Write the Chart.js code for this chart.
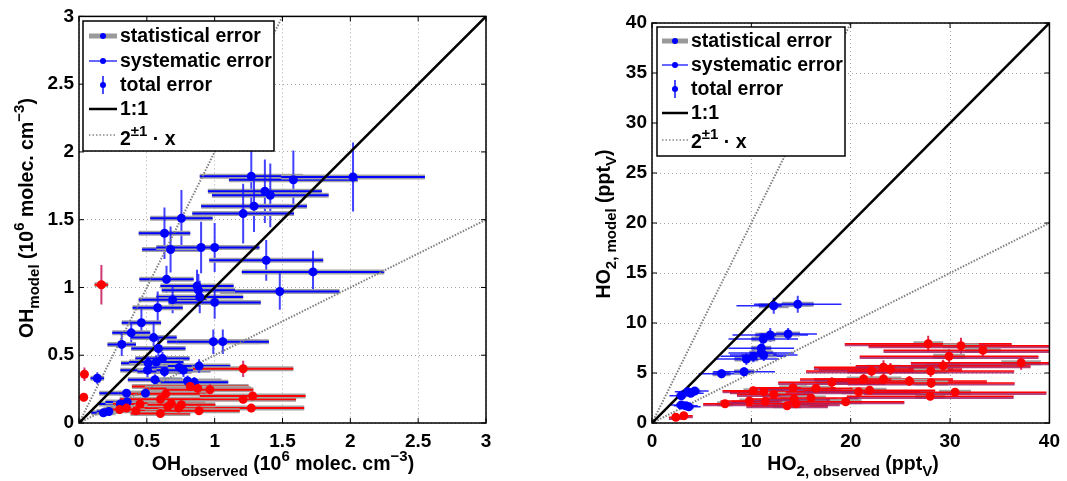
<!DOCTYPE html>
<html>
<head>
<meta charset="utf-8">
<script src="https://cdn.jsdelivr.net/npm/chart.js@4"></script>
<style>
    body { margin: 0; background: #fff; width: 1067px; height: 481px; overflow: hidden; position: relative; }
    #ohChart { position: absolute; left: 0; top: 0; }
    #ho2Chart { position: absolute; left: 540px; top: 0; }
</style>
</head>
<body>
<canvas id="ohChart" width="500" height="481"></canvas>
<canvas id="ho2Chart" width="527" height="481"></canvas>
<script>
//OH panel, blue = first campaign, red = second campaign
const ohBlueObs = [1.27, 1.58, 2.02, 1.37, 1.41, 1.29, 1.21, 0.755, 0.63, 0.675, 0.90, 1.00, 1.38, 1.725, 1.48, 0.645, 0.87, 0.88, 0.89, 0.69, 1.00, 0.58, 0.46, 0.385, 0.55, 0.315, 0.585, 0.99, 1.06, 0.615, 0.51, 0.57, 0.505, 0.63, 0.74, 0.77, 0.885, 0.56, 0.80, 0.85, 0.135, 0.35, 0.49, 0.305, 0.355, 0.18, 0.22];
const ohBlueModel = [1.82, 1.795, 1.815, 1.71, 1.68, 1.60, 1.545, 1.51, 1.40, 1.28, 1.295, 1.295, 1.20, 1.115, 0.97, 1.06, 1.01, 0.98, 0.93, 0.91, 0.89, 0.85, 0.74, 0.665, 0.63, 0.58, 0.55, 0.60, 0.60, 0.475, 0.44, 0.45, 0.39, 0.38, 0.41, 0.39, 0.42, 0.32, 0.31, 0.30, 0.33, 0.22, 0.22, 0.14, 0.155, 0.075, 0.085];
const ohBlueXErr = [0.38, 0.475, 0.53, 0.42, 0.43, 0.39, 0.375, 0.23, 0.19, 0.21, 0.33, 0.33, 0.42, 0.525, 0.44, 0.2, 0.27, 0.27, 0.32, 0.25, 0.34, 0.185, 0.145, 0.14, 0.17, 0.105, 0.2, 0.34, 0.34, 0.2, 0.2, 0.2, 0.2, 0.2, 0.25, 0.2, 0.23, 0.2, 0.25, 0.25, 0.05, 0.2, 0.2, 0.16, 0.16, 0.09, 0.09];
const ohBlueYErr = [0.22, 0.215, 0.255, 0.235, 0.235, 0.19, 0.22, 0.21, 0.19, 0.17, 0.19, 0.18, 0.15, 0.155, 0.135, 0.1, 0.12, 0.12, 0.12, 0.1, 0.12, 0.12, 0.1, 0.08, 0.1, 0.085, 0.08, 0.09, 0.09, 0.05, 0.05, 0.05, 0.05, 0.05, 0.05, 0.05, 0.05, 0.04, 0.04, 0.04, 0.045, 0.03, 0.03, 0.03, 0.03, 0.03, 0.03];

const ohRedObs = [0.165, 0.04, 0.035, 1.21, 0.82, 0.875, 0.965, 0.64, 0.60, 1.21, 1.28, 1.27, 0.45, 0.68, 0.655, 0.35, 0.42, 0.60, 0.735, 0.885, 0.755, 0.30];
const ohRedModel = [1.02, 0.36, 0.19, 0.40, 0.27, 0.255, 0.245, 0.215, 0.175, 0.175, 0.20, 0.11, 0.14, 0.145, 0.12, 0.11, 0.09, 0.07, 0.11, 0.09, 0.135, 0.10];
const ohRedXErr = [0.05, 0.01, 0.01, 0.37, 0.43, 0.39, 0.32, 0.3, 0.3, 0.39, 0.39, 0.39, 0.2, 0.25, 0.25, 0.15, 0.18, 0.22, 0.25, 0.3, 0.25, 0.12];
const ohRedYErr = [0.145, 0.05, 0.03, 0.06, 0.04, 0.04, 0.04, 0.04, 0.03, 0.03, 0.03, 0.03, 0.03, 0.03, 0.03, 0.03, 0.03, 0.03, 0.03, 0.03, 0.03, 0.03];

//HO2 panel
const ho2BlueObs = [12.25, 14.67, 11.9, 13.7, 11.2, 11.0, 9.5, 10.2, 11.25, 11.0, 7.0, 9.27, 2.95, 3.6, 4.3, 3.9, 2.95, 3.7, 3.4];
const ho2BlueModel = [11.73, 11.87, 8.8, 8.9, 8.4, 7.47, 6.4, 6.67, 6.8, 7.0, 4.93, 5.13, 2.73, 3.13, 3.2, 2.97, 1.8, 1.63, 1.73];
const ho2BlueStat = [1.5, 1.6, 1.5, 1.2, 1.2, 1.0, 1.2, 1.2, 1.3, 1.2, 0.9, 1.0, 0.5, 0.5, 0.5, 0.5, 0.5, 0.5, 0.5];
const ho2BlueSys = [3.75, 4.4, 3.8, 2.9, 3.5, 3.3, 3.2, 3.3, 3.4, 3.3, 2.3, 3.1, 1.2, 1.3, 1.4, 1.3, 1.1, 1.2, 1.2];
const ho2BlueYErr = [0.8, 0.85, 0.7, 0.6, 0.6, 0.5, 0.6, 0.6, 0.6, 0.6, 0.45, 0.45, 0.3, 0.3, 0.3, 0.3, 0.3, 0.3, 0.3];

const ho2RedObs = [2.4, 3.2, 7.35, 9.8, 10.2, 11.4, 11.25, 12.25, 14.3, 13.6, 14.5, 14.2, 16.0, 16.5, 18.1, 19.5, 20.8, 21.9, 21.3, 22.1, 23.3, 24.0, 23.3, 25.9, 27.8, 31.1, 29.9, 33.3, 29.3, 28.05, 28.1, 28.0, 30.5, 37.15];
const ho2RedModel = [0.57, 0.73, 1.93, 2.2, 3.23, 2.17, 3.13, 2.87, 2.4, 1.73, 1.93, 3.53, 2.5, 3.47, 4.07, 2.13, 3.13, 3.27, 4.4, 5.2, 5.57, 5.4, 4.4, 4.2, 7.93, 7.73, 6.67, 7.27, 5.73, 5.2, 4.0, 2.67, 3.07, 6.03];
const ho2RedStat = [0.3, 0.3, 0.8, 1.0, 1.0, 1.2, 1.2, 1.2, 1.4, 1.4, 1.4, 1.4, 1.5, 1.5, 1.6, 1.6, 1.7, 1.7, 1.7, 1.7, 1.8, 1.8, 1.8, 1.8, 1.5, 1.8, 1.6, 1.8, 1.7, 1.7, 1.7, 1.5, 1.6, 2.0];
const ho2RedSys = [0.7, 0.9, 2.2, 2.9, 3.1, 3.4, 3.4, 3.7, 4.3, 4.1, 4.4, 4.3, 4.8, 5.0, 5.4, 5.9, 6.2, 6.6, 6.4, 6.6, 7.0, 7.2, 7.0, 7.8, 8.4, 9.3, 9.0, 10.0, 8.8, 8.4, 8.4, 8.4, 9.2, 11.1];
const ho2RedYErr = [0.15, 0.15, 0.3, 0.3, 0.4, 0.3, 0.4, 0.4, 0.3, 0.3, 0.3, 0.4, 0.3, 0.4, 0.5, 0.3, 0.4, 0.4, 0.5, 0.6, 0.7, 0.6, 0.5, 0.5, 0.8, 0.8, 0.7, 0.7, 0.6, 0.6, 0.5, 0.4, 0.4, 0.7];

const legendLabels = ["statistical error", "systematic error", "total error", "1:1"];

const FONT = "'Liberation Sans', Arial, Helvetica, sans-serif";
const BLUE = "#0000ff";
const RED = "#ff0000";

//text pieces: [text, kind] kind = n (normal), sub, sup
const ohXTitle = [["OH", "n"], ["observed", "sub"], [" (10", "n"], ["6", "sup"], [" molec. cm", "n"], ["\u22123", "sup"], [")", "n"]];
const ohYTitle = [["OH", "n"], ["model", "sub"], [" (10", "n"], ["6", "sup"], [" molec. cm", "n"], ["\u22123", "sup"], [")", "n"]];
const ho2XTitle = [["HO", "n"], ["2, observed", "sub"], [" (ppt", "n"], ["V", "sub"], [")", "n"]];
const ho2YTitle = [["HO", "n"], ["2, model", "sub"], [" (ppt", "n"], ["V", "sub"], [")", "n"]];
const ratioLabel = [["2", "n"], ["\u00b11", "sup"], [" \u00b7 x", "n"]];

//layout of the decorations for each canvas (canvas pixels)
const decor = {
    ohChart: {
        xTitle: ohXTitle, xTitlePos: [283, 470],
        yTitle: ohYTitle, yTitlePos: [33, 218],
        legend: { left: 83, top: 21, width: 191, height: 130, x0: 89, x1: 117, textX: 120,
            lineY: [36, 61, 85, 109, 135], textY: [42, 67, 91, 115, 145] }
    },
    ho2Chart: {
        xTitle: ho2XTitle, xTitlePos: [313, 470],
        yTitle: ho2YTitle, yTitlePos: [70, 224],
        legend: { left: 117, top: 27, width: 188, height: 129, x0: 122, x1: 148, textX: 151,
            lineY: [41, 65, 89, 113, 140], textY: [47, 71, 95, 119, 148] }
    }
};

function partFont(kind) {
    return "bold " + (kind == "n" ? 19.5 : 15) + "px " + FONT;
}

function partShift(kind) {
    if (kind == "sub") return 6;
    if (kind == "sup") return -9;
    return 0;
}

//draws a title with sub/superscripts, centered on cx (or left aligned)
function drawRich(ctx, parts, cx, cy, rotate, alignLeft) {
    ctx.save();
    ctx.translate(cx, cy);
    if (rotate) ctx.rotate(-Math.PI / 2);
    ctx.fillStyle = "#000";
    ctx.textBaseline = "alphabetic";
    ctx.textAlign = "left";
    let total = 0;
    parts.forEach(p => { ctx.font = partFont(p[1]); total += ctx.measureText(p[0]).width; });
    let x = alignLeft ? 0 : -total / 2;
    parts.forEach(p => {
        ctx.font = partFont(p[1]);
        ctx.fillText(p[0], x, partShift(p[1]));
        x += ctx.measureText(p[0]).width;
    });
    ctx.restore();
}

function strokeLine(ctx, x0, y0, x1, y1, color, width, dash) {
    ctx.beginPath();
    ctx.strokeStyle = color;
    ctx.lineWidth = width;
    ctx.lineCap = "butt";
    ctx.setLineDash(dash || []);
    ctx.moveTo(x0, y0);
    ctx.lineTo(x1, y1);
    ctx.stroke();
    ctx.setLineDash([]);
}

function dot(ctx, x, y, r, color) {
    ctx.beginPath();
    ctx.fillStyle = color;
    ctx.arc(x, y, r, 0, Math.PI * 2);
    ctx.fill();
}

function drawLegend(ctx, lg) {
    ctx.save();
    ctx.fillStyle = "#fff";
    ctx.fillRect(lg.left, lg.top, lg.width, lg.height);
    ctx.strokeStyle = "#000";
    ctx.lineWidth = 1.5;
    ctx.strokeRect(lg.left, lg.top, lg.width, lg.height);
    let mid = (lg.x0 + lg.x1) / 2;
    strokeLine(ctx, lg.x0, lg.lineY[0], lg.x1, lg.lineY[0], "#9a9a9a", 5);
    dot(ctx, mid, lg.lineY[0], 3, BLUE);
    strokeLine(ctx, lg.x0, lg.lineY[1], lg.x1, lg.lineY[1], BLUE, 1.2);
    dot(ctx, mid, lg.lineY[1], 3, BLUE);
    strokeLine(ctx, mid, lg.lineY[2] - 9, mid, lg.lineY[2] + 9, "rgba(30,30,255,0.8)", 2);
    dot(ctx, mid, lg.lineY[2], 3, BLUE);
    strokeLine(ctx, lg.x0, lg.lineY[3], lg.x1, lg.lineY[3], "#000", 2.5);
    strokeLine(ctx, lg.x0, lg.lineY[4], lg.x1, lg.lineY[4], "#888", 1.5, [1.5, 2]);
    ctx.fillStyle = "#000";
    ctx.font = partFont("n");
    ctx.textAlign = "left";
    for (let i = 0; i < legendLabels.length; i++) {
        ctx.fillText(legendLabels[i], lg.textX, lg.textY[i]);
    }
    drawRich(ctx, ratioLabel, lg.textX, lg.textY[4], false, true);
    ctx.restore();
}

//error bars are drawn from the data through the chart scales
const errorBarPlugin = {
    id: "errorBars",
    beforeDatasetsDraw(chart) {
        const ctx = chart.ctx;
        const xs = chart.scales.x;
        const ys = chart.scales.y;
        const a = chart.chartArea;
        ctx.save();
        ctx.beginPath();
        ctx.rect(a.left, a.top, a.right - a.left, a.bottom - a.top);
        ctx.clip();
        let sets = chart.data.datasets.filter(ds => ds.errY).reverse();
        sets.forEach(ds => {
            const st = ds.barStyle;
            ds.data.forEach((p, i) => {
                let px = xs.getPixelForValue(p.x);
                let py = ys.getPixelForValue(p.y);
                let s0 = xs.getPixelForValue(p.x - ds.errStat[i]);
                let s1 = xs.getPixelForValue(p.x + ds.errStat[i]);
                let y0 = ys.getPixelForValue(p.y - ds.errY[i]);
                let y1 = ys.getPixelForValue(p.y + ds.errY[i]);
                let k0 = xs.getPixelForValue(p.x - ds.errSys[i]);
                let k1 = xs.getPixelForValue(p.x + ds.errSys[i]);
                strokeLine(ctx, s0, py, s1, py, "#a2a2a2", 5);
                if (st.statTint) strokeLine(ctx, s0, py, s1, py, st.statTint, 3);
                if (st.extra) strokeLine(ctx, k0, py + 1.5, k1, py + 1.5, st.extra, 2.2);
                strokeLine(ctx, k0, py, k1, py, st.sysColor, st.sysWidth);
                strokeLine(ctx, px, y0, px, y1, st.yColor, 2);
            });
        });
        ctx.restore();
    }
};

//box, inward ticks, axis titles and legend
const decorPlugin = {
    id: "matlabDecor",
    afterDraw(chart) {
        const ctx = chart.ctx;
        const a = chart.chartArea;
        const d = decor[chart.canvas.id];
        ctx.save();
        ctx.strokeStyle = "#000";
        ctx.lineWidth = 1.5;
        ctx.strokeRect(a.left, a.top, a.right - a.left, a.bottom - a.top);
        chart.scales.x.ticks.forEach(t => {
            let px = chart.scales.x.getPixelForValue(t.value);
            strokeLine(ctx, px, a.bottom, px, a.bottom - 5, "#000", 1);
            strokeLine(ctx, px, a.top, px, a.top + 5, "#000", 1);
        });
        chart.scales.y.ticks.forEach(t => {
            let py = chart.scales.y.getPixelForValue(t.value);
            strokeLine(ctx, a.left, py, a.left + 5, py, "#000", 1);
            strokeLine(ctx, a.right, py, a.right - 5, py, "#000", 1);
        });
        ctx.restore();
        drawRich(ctx, d.xTitle, d.xTitlePos[0], d.xTitlePos[1], false);
        drawRich(ctx, d.yTitle, d.yTitlePos[0], d.yTitlePos[1], true);
        drawLegend(ctx, d.legend);
    }
};

function toPoints(xArr, yArr) {
    return xArr.map((v, i) => ({ x: v, y: yArr[i] }));
}

function axisScale(max, step, isY, size) {
    return {
        type: "linear",
        min: 0,
        max: max,
        afterFit: function (scale) {
            if (isY) scale.width = size;
            else scale.height = size;
        },
        ticks: {
            stepSize: step,
            padding: isY ? 5 : 7,
            color: "#000",
            autoSkip: false,
            maxRotation: 0,
            font: { family: FONT, size: 19, weight: "bold" },
            callback: v => String(Math.round(v * 10) / 10)
        },
        grid: { color: "#a8a8a8", lineWidth: 1, drawTicks: false },
        border: { display: false, dash: [1, 3] }
    };
}

function pointSet(xArr, yArr, color) {
    return {
        data: toPoints(xArr, yArr),
        pointRadius: 4.5,
        pointBackgroundColor: color,
        pointBorderWidth: 0,
        showLine: false
    };
}

function refLine(max, slope, color, width, dash) {
    return {
        data: slope >= 1 ? [{ x: 0, y: 0 }, { x: max / slope, y: max }] : [{ x: 0, y: 0 }, { x: max, y: max * slope }],
        showLine: true,
        pointRadius: 0,
        borderColor: color,
        borderWidth: width,
        borderDash: dash || []
    };
}

function makeChart(id, max, xStep, yStep, yAxisWidth, blue, red) {
    const ctx = document.getElementById(id).getContext("2d");
    const myChart = new Chart(ctx, {
        type: "scatter",
        data: {
            datasets: [
                red,
                blue,
                refLine(max, 1, "#000", 2.5),
                refLine(max, 2, "#808080", 2, [1.5, 1.5]),
                refLine(max, 0.5, "#808080", 2, [1.5, 1.5])
            ]
        },
        options: {
            responsive: false,
            animation: false,
            layout: { padding: { left: 0, right: 14, top: id == "ohChart" ? 16 : 23, bottom: 0 } },
            scales: {
                x: axisScale(max, xStep, false, 58),
                y: axisScale(max, yStep, true, yAxisWidth)
            },
            plugins: { legend: { display: false }, tooltip: { enabled: false } }
        },
        plugins: [errorBarPlugin, decorPlugin]
    });
    return myChart;
}

//OH chart
let ohBlue = pointSet(ohBlueObs, ohBlueModel, BLUE);
ohBlue.errStat = ohBlueXErr;
ohBlue.errSys = ohBlueXErr;
ohBlue.errY = ohBlueYErr;
ohBlue.barStyle = { sysColor: BLUE, sysWidth: 2, yColor: "rgba(20,20,255,0.8)" };
let ohRed = pointSet(ohRedObs, ohRedModel, RED);
ohRed.errStat = ohRedXErr;
ohRed.errSys = ohRedXErr;
ohRed.errY = ohRedYErr;
ohRed.barStyle = { sysColor: RED, sysWidth: 2, yColor: "rgba(200,20,90,0.85)" };
makeChart("ohChart", 3, 0.5, 0.5, 79, ohBlue, ohRed);

//HO2 chart
let ho2Blue = pointSet(ho2BlueObs, ho2BlueModel, BLUE);
ho2Blue.errStat = ho2BlueStat;
ho2Blue.errSys = ho2BlueSys;
ho2Blue.errY = ho2BlueYErr;
ho2Blue.barStyle = { statTint: "rgba(40,40,255,0.6)", sysColor: "rgba(0,0,255,0.85)", sysWidth: 1.5, yColor: "rgba(20,20,255,0.8)" };
let ho2Red = pointSet(ho2RedObs, ho2RedModel, RED);
ho2Red.errStat = ho2RedStat;
ho2Red.errSys = ho2RedSys;
ho2Red.errY = ho2RedYErr;
ho2Red.barStyle = { extra: "rgba(165,30,100,0.85)", sysColor: RED, sysWidth: 1.5, yColor: "rgba(220,20,60,0.9)" };
makeChart("ho2Chart", 40, 10, 5, 112, ho2Blue, ho2Red);
</script>
</body>
</html>
